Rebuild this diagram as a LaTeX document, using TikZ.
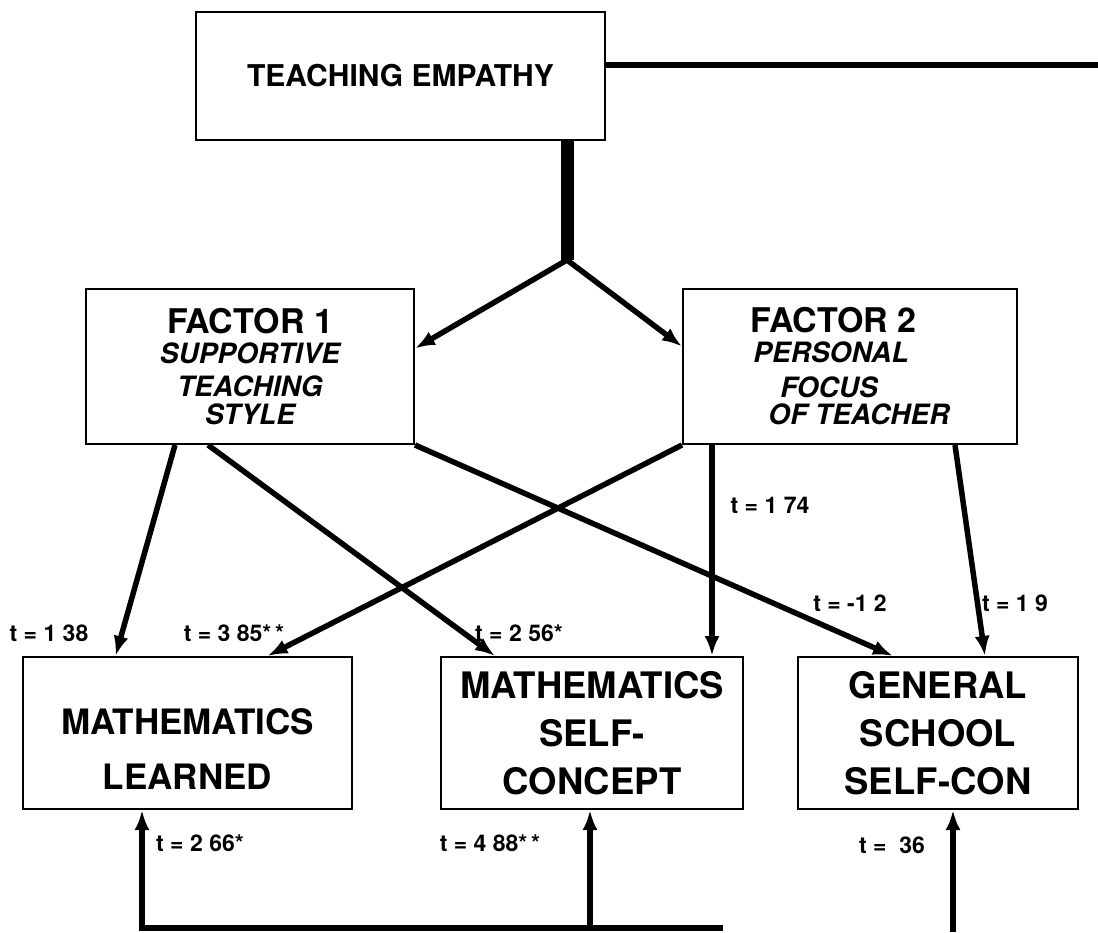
\documentclass[tikz,border=0pt]{standalone}
\usepackage{fontspec}
\setmainfont{TeX Gyre Heros}
\usepackage{tikz}
\usetikzlibrary{arrows.meta, positioning, calc}

\newcommand{\facsub}[1]{{\fontsize{28}{30}\selectfont\itshape #1}}

\begin{document}
\begin{tikzpicture}[
    x=1pt, y=-1pt,
    box/.style={rectangle, draw, line width=2pt, align=center, inner sep=0pt},
    factor/.style={box, minimum height=155pt, font=\fontsize{34}{30}\selectfont\bfseries},
    outcome/.style={box, minimum height=152pt, font=\fontsize{36.5}{48}\selectfont\bfseries},
    arrow/.style={-{Latex[length=20pt, width=15pt]}, line width=5.5pt},
    tlabel/.style={font=\fontsize{23}{23}\selectfont\bfseries, inner sep=0pt}
]
\useasboundingbox (0,0) rectangle (1098,932);

\node[box, minimum width=409pt, minimum height=128pt, font=\fontsize{30}{30}\selectfont\bfseries] (empathy) at (400.5,76) {TEACHING EMPATHY};

\node[factor, minimum width=328pt] (f1) at (250,366.5) {FACTOR 1\\ \facsub{SUPPORTIVE}\\[3pt] \facsub{TEACHING}\\[-2pt] \facsub{STYLE}};
\node[factor, minimum width=334pt, align=left] (f2) at (850,366.5) {FACTOR 2\\ \hspace*{3pt}\facsub{PERSONAL}\\[5pt] \hspace*{30pt}\facsub{FOCUS}\\[-3pt] \hspace*{18pt}\facsub{OF TEACHER}};

\node[outcome, minimum width=329pt, text height=112pt, text depth=0pt, font=\fontsize{35}{48}\selectfont\bfseries] (learned) at (187.5,733) {MATHEMATICS\\[7pt] LEARNED};
\node[outcome, minimum width=302pt] (selfcon) at (592,733) {MATHEMATICS\\ SELF-\\ CONCEPT};
\node[outcome, minimum width=280pt] (general) at (938,733) {GENERAL\\ SCHOOL\\ SELF-CON};

% trunk and split
\coordinate (split) at (567,260);
\coordinate (empR) at (1098,65);
\draw[line width=6.5pt] (empathy.east |- empR) -- (empR);
\draw[line width=13pt] (empathy.south -| split) -- (split);
\draw[arrow] (split) -- ([yshift=18pt]f1.east);
\draw[arrow] (split) -- ([yshift=20pt]f2.west);

% factor paths
\draw[arrow] ([xshift=-75pt]f1.south) -- ([xshift=-72pt]learned.north);
\draw[arrow] ([xshift=-42pt]f1.south) -- ([xshift=-97pt]selfcon.north);
\draw[arrow] (f1.south east) -- ([xshift=-45pt]general.north);
\draw[arrow] (f2.south west) -- ([xshift=80pt]learned.north);
\draw[arrow] ([xshift=-138pt]f2.south) -- ([xshift=120pt]selfcon.north);
\draw[arrow] ([xshift=105pt]f2.south) -- ([xshift=47pt]general.north);

% bottom paths
\coordinate (baseL) at (142,928);
\coordinate (baseR) at (723,928);
\coordinate (baseM) at (590,928);
\coordinate (baseG) at (953,932);
\draw[arrow] (baseR) -- (baseL) -- (learned.south -| baseL);
\draw[arrow] (baseM) -- (selfcon.south -| baseM);
\draw[arrow] (baseG) -- (general.south -| baseG);

% t values
\node[tlabel] (t1) at (49,633) {t = 1 38};
\node[tlabel] (t2) at (234,633) {t = 3 85*\,*};
\node[tlabel] (t3) at (519,633) {t = 2 56*};
\node[tlabel] (t4) at (770,505) {t = 1 74};
\node[tlabel] (t5) at (850,603) {t = -1 2};
\node[tlabel] (t6) at (1015,603) {t = 1 9};
\node[tlabel] (t7) at (200,843) {t = 2 66*};
\node[tlabel] (t8) at (490,843) {t = 4 88*\,*};
\node[tlabel] (t9) at (892,845) {t = \ 36};

\end{tikzpicture}
\end{document}
